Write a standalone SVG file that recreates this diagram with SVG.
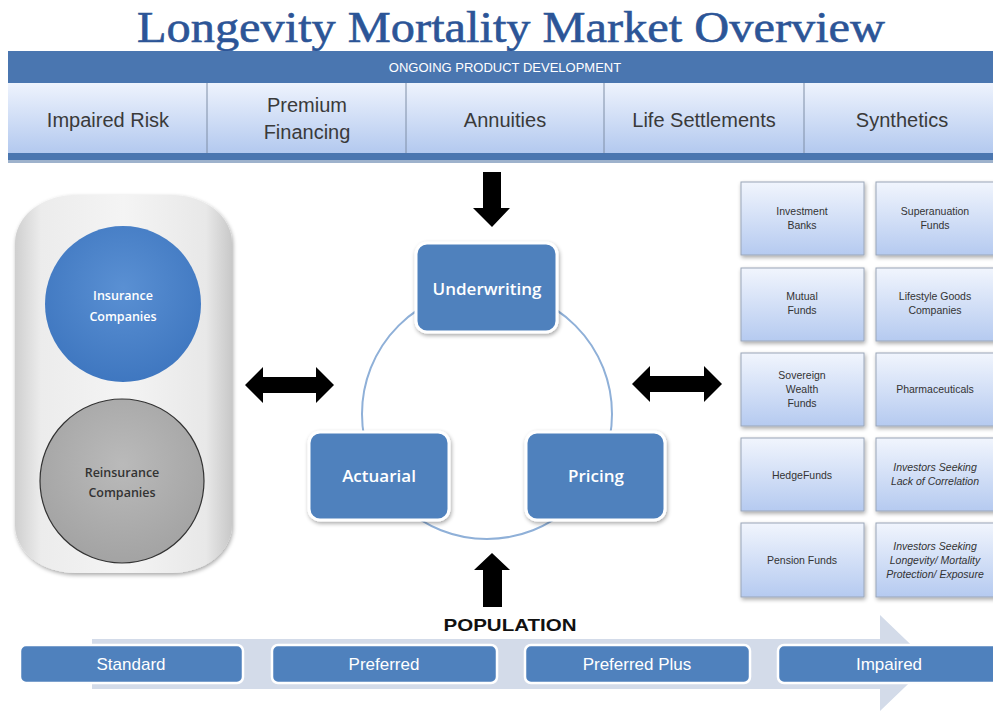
<svg xmlns="http://www.w3.org/2000/svg" width="993" height="711" viewBox="0 0 993 711">
<defs>
<linearGradient id="cellG" x1="0" y1="0" x2="0" y2="1"><stop offset="0" stop-color="#eef3fd"/><stop offset="1" stop-color="#b3c9ef"/></linearGradient>
<linearGradient id="gridG" x1="0" y1="0" x2="0" y2="1"><stop offset="0" stop-color="#f1f5fd"/><stop offset="1" stop-color="#b5caf0"/></linearGradient>
<linearGradient id="capG" x1="0" y1="0" x2="1" y2="0"><stop offset="0" stop-color="#cfcfcf"/><stop offset="0.12" stop-color="#ececec"/><stop offset="0.5" stop-color="#f4f4f4"/><stop offset="0.88" stop-color="#e8e8e8"/><stop offset="1" stop-color="#c8c8c8"/></linearGradient>
<radialGradient id="blueC" cx="0.5" cy="0.4" r="0.6"><stop offset="0" stop-color="#5a90d3"/><stop offset="1" stop-color="#3f77c0"/></radialGradient>
<radialGradient id="grayC" cx="0.5" cy="0.4" r="0.6"><stop offset="0" stop-color="#bababa"/><stop offset="1" stop-color="#a3a3a3"/></radialGradient>
<filter id="sh" x="-10%" y="-10%" width="130%" height="130%"><feGaussianBlur in="SourceAlpha" stdDeviation="2"/><feOffset dx="1" dy="2"/><feComponentTransfer><feFuncA type="linear" slope="0.35"/></feComponentTransfer><feMerge><feMergeNode/><feMergeNode in="SourceGraphic"/></feMerge></filter>
</defs>
<style>
.title{font-family:"Liberation Serif",serif;font-size:45px;fill:#2c5597;stroke:#2c5597;stroke-width:0.6}
.hdr{font-family:"Liberation Sans",sans-serif;font-size:13px;fill:#ffffff}
.cell{font-family:"Liberation Sans",sans-serif;font-size:20px;fill:#3a3a3a}
.proc{fill:#4f81bd;stroke:#ffffff;stroke-width:3}
.ptxt{font-family:"Open Sans","Liberation Sans",sans-serif;font-size:17px;fill:#ffffff;font-weight:600}
.grid{fill:url(#gridG);stroke:#9aa6b8;stroke-width:1}
.gtxt{font-family:"Liberation Sans",sans-serif;font-size:10.5px;fill:#333333}
.gi{font-style:italic}
.band{fill:#4f81bd;stroke:#ffffff;stroke-width:2.5}
.btxt{font-family:"Liberation Sans",sans-serif;font-size:17px;fill:#ffffff}
.ctxt{font-family:"Open Sans","Liberation Sans",sans-serif;font-size:12.5px;font-weight:600}
.blk{fill:#000000}
</style>
<rect width="993" height="711" fill="#ffffff"/>
<text class="title" x="511" y="42" text-anchor="middle" textLength="748" lengthAdjust="spacingAndGlyphs">Longevity Mortality Market Overview</text>

<g id="product-development">
<rect x="8" y="51" width="985" height="111" fill="#4a76b0"/>
<rect x="8" y="160" width="985" height="3" fill="#9eb2cc"/>
<text class="hdr" x="505" y="72" text-anchor="middle">ONGOING PRODUCT  DEVELOPMENT</text>
<rect x="8" y="83" width="985" height="70" fill="url(#cellG)"/>
<g stroke="#7f8ea6" stroke-width="1"><line x1="207" y1="83" x2="207" y2="153"/><line x1="406" y1="83" x2="406" y2="153"/><line x1="604" y1="83" x2="604" y2="153"/><line x1="804" y1="83" x2="804" y2="153"/></g>
<text class="cell" x="108" y="127" text-anchor="middle">Impaired Risk</text>
<text class="cell" x="307" y="112" text-anchor="middle">Premium</text>
<text class="cell" x="307" y="139" text-anchor="middle">Financing</text>
<text class="cell" x="505" y="127" text-anchor="middle">Annuities</text>
<text class="cell" x="704" y="127" text-anchor="middle">Life Settlements</text>
<text class="cell" x="902" y="127" text-anchor="middle">Synthetics</text>
</g>

<g id="companies">
<rect x="15" y="195" width="217" height="378" rx="60" ry="48" fill="url(#capG)" filter="url(#sh)"/>
<circle cx="123" cy="304" r="78" fill="url(#blueC)"/>
<text class="ctxt" x="123" y="300" text-anchor="middle" fill="#ffffff">Insurance</text>
<text class="ctxt" x="123" y="321" text-anchor="middle" fill="#ffffff">Companies</text>
<circle cx="122" cy="481" r="82" fill="url(#grayC)" stroke="#333333" stroke-width="1.2"/>
<text class="ctxt" x="122" y="477" text-anchor="middle" fill="#333333" font-weight="400">Reinsurance</text>
<text class="ctxt" x="122" y="497" text-anchor="middle" fill="#333333" font-weight="400">Companies</text>
</g>

<g id="connectors">
<circle cx="487" cy="414" r="125" fill="none" stroke="#8fb0d8" stroke-width="2"/>
<path class="blk" d="M245,385 L263,367 L263,377 L316,377 L316,367 L334,385 L316,403 L316,393 L263,393 L263,403 Z"/>
<path class="blk" d="M632,384 L650,366 L650,376 L704,376 L704,366 L722,384 L704,402 L704,392 L650,392 L650,402 Z"/>
<path class="blk" d="M483,172 L501,172 L501,208 L510,208 L492,227 L473,208 L483,208 Z"/>
<path class="blk" d="M492,553 L510,570 L502,570 L502,607 L483,607 L483,570 L474,570 Z"/>
</g>

<g id="underwriting"><rect class="proc" x="416" y="243" width="141" height="89" rx="11" filter="url(#sh)"/><text class="ptxt" x="487" y="295" text-anchor="middle">Underwriting</text></g>
<g id="actuarial"><rect class="proc" x="309" y="432" width="140" height="88" rx="11" filter="url(#sh)"/><text class="ptxt" x="379" y="482" text-anchor="middle">Actuarial</text></g>
<g id="pricing"><rect class="proc" x="526" y="432" width="139" height="88" rx="11" filter="url(#sh)"/><text class="ptxt" x="596" y="482" text-anchor="middle">Pricing</text></g>

<g id="investors">
<rect class="grid" x="741" y="182" width="123" height="73" filter="url(#sh)"/>
<text class="gtxt" x="802" y="215" text-anchor="middle">Investment</text><text class="gtxt" x="802" y="229" text-anchor="middle">Banks</text>
<rect class="grid" x="876" y="182" width="120" height="73" filter="url(#sh)"/>
<text class="gtxt" x="935" y="215" text-anchor="middle">Superanuation</text><text class="gtxt" x="935" y="229" text-anchor="middle">Funds</text>
<rect class="grid" x="741" y="268" width="123" height="73" filter="url(#sh)"/>
<text class="gtxt" x="802" y="300" text-anchor="middle">Mutual</text><text class="gtxt" x="802" y="314" text-anchor="middle">Funds</text>
<rect class="grid" x="876" y="268" width="120" height="73" filter="url(#sh)"/>
<text class="gtxt" x="935" y="300" text-anchor="middle">Lifestyle Goods</text><text class="gtxt" x="935" y="314" text-anchor="middle">Companies</text>
<rect class="grid" x="741" y="353" width="123" height="73" filter="url(#sh)"/>
<text class="gtxt" x="802" y="379" text-anchor="middle">Sovereign</text><text class="gtxt" x="802" y="393" text-anchor="middle">Wealth</text><text class="gtxt" x="802" y="407" text-anchor="middle">Funds</text>
<rect class="grid" x="876" y="353" width="120" height="73" filter="url(#sh)"/>
<text class="gtxt" x="935" y="393" text-anchor="middle">Pharmaceuticals</text>
<rect class="grid" x="741" y="438" width="123" height="73" filter="url(#sh)"/>
<text class="gtxt" x="802" y="479" text-anchor="middle">HedgeFunds</text>
<rect class="grid" x="876" y="438" width="120" height="73" filter="url(#sh)"/>
<text class="gtxt gi" x="935" y="471" text-anchor="middle">Investors Seeking</text><text class="gtxt gi" x="935" y="485" text-anchor="middle">Lack of Correlation</text>
<rect class="grid" x="741" y="523" width="123" height="74" filter="url(#sh)"/>
<text class="gtxt" x="802" y="564" text-anchor="middle">Pension Funds</text>
<rect class="grid" x="876" y="523" width="120" height="74" filter="url(#sh)"/>
<text class="gtxt gi" x="935" y="550" text-anchor="middle">Investors Seeking</text><text class="gtxt gi" x="935" y="564" text-anchor="middle">Longevity/ Mortality</text><text class="gtxt gi" x="935" y="578" text-anchor="middle">Protection/ Exposure</text>
</g>

<g id="population">
<text x="510" y="631" text-anchor="middle" font-family="Liberation Sans, sans-serif" font-size="17" font-weight="bold" fill="#111111" textLength="133" lengthAdjust="spacingAndGlyphs">POPULATION</text>
<path d="M92,639 L880,639 L880,615 L930,663 L880,711 L880,689 L92,689 Z" fill="#d3dbe9"/>
<g id="standard"><rect class="band" x="20" y="645" width="223" height="38" rx="6"/><text class="btxt" x="131" y="670" text-anchor="middle">Standard</text></g>
<g id="preferred"><rect class="band" x="272" y="645" width="225" height="38" rx="6"/><text class="btxt" x="384" y="670" text-anchor="middle">Preferred</text></g>
<g id="preferred-plus"><rect class="band" x="525" y="645" width="225" height="38" rx="6"/><text class="btxt" x="637" y="670" text-anchor="middle">Preferred Plus</text></g>
<g id="impaired"><rect class="band" x="778" y="645" width="222" height="38" rx="6"/><text class="btxt" x="889" y="670" text-anchor="middle">Impaired</text></g>
</g>
</svg>
